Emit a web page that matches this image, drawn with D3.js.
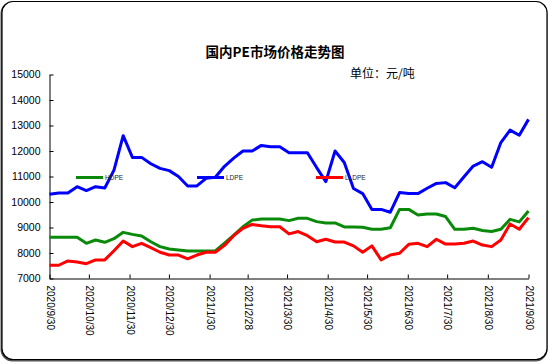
<!DOCTYPE html>
<html><head><meta charset="utf-8">
<script src="https://cdn.jsdelivr.net/npm/d3@7"></script>
<style>
html,body{margin:0;padding:0;background:#fff;}
svg{display:block;}
</style></head>
<body>
<svg id="c" width="550" height="364"></svg>
<script>
const title = "国内PE市场价格走势图";
const unitLabel = "单位：元/吨";
const seriesNames = ["HDPE", "LDPE", "LLDPE"];
const seriesColors = ["#0a8a0a", "#0000ff", "#ff0000"];
const startDate = "2020-09-30";
const endDate = "2021-09-30";
const tickLabels = ["2020/9/30","2020/10/30","2020/11/30","2020/12/30","2021/1/30","2021/2/28","2021/3/30","2021/4/30","2021/5/30","2021/6/30","2021/7/30","2021/8/30","2021/9/30"];
const yTicks = [7000,8000,9000,10000,11000,12000,13000,14000,15000];

const hdpe = [8620,8620,8620,8620,8380,8510,8420,8560,8810,8730,8670,8440,8250,8160,8120,8080,8080,8080,8080,8390,8700,9030,9290,9330,9330,9330,9270,9360,9360,9230,9180,9180,9020,9020,9010,8930,8930,8990,9710,9710,9490,9530,9530,9430,8930,8930,8970,8880,8840,8930,9320,9220,9650];
const ldpe = [10300,10350,10350,10600,10450,10600,10550,11250,12600,11750,11750,11500,11320,11230,11000,10630,10630,10930,10970,11400,11720,12000,12000,12220,12170,12170,11930,11930,11930,11350,10800,12000,11550,10530,10330,9710,9710,9600,10370,10330,10330,10540,10730,10760,10560,10990,11410,11580,11360,12330,12820,12620,13240];
const lldpe = [7520,7520,7690,7650,7580,7730,7730,8090,8470,8250,8380,8210,8030,7920,7920,7770,7920,8030,8030,8300,8680,8970,9120,9070,9030,9030,8750,8840,8680,8440,8540,8430,8430,8280,8030,8280,7730,7920,7990,8340,8380,8250,8540,8350,8350,8380,8470,8310,8250,8510,9140,8930,9390];

const parse = d3.timeParse("%Y-%m-%d");
const t0 = parse(startDate), t1 = parse(endDate);
const n = hdpe.length;
const dates = d3.range(n).map(i => new Date(+t0 + (t1 - t0) * i / (n - 1)));
const tickParse = d3.timeParse("%Y/%m/%d");
const tickDates = tickLabels.map(s => tickParse(s));

const svg = d3.select("#c");
const L = 49.5, R = 528.5, T = 74.5, B = 278.5;

// border with shadow
svg.append("rect").attr("x",1.5).attr("y",2.5).attr("width",545).attr("height",358)
  .attr("rx",11).attr("fill","none").attr("stroke","#555").attr("stroke-width",2);
svg.append("rect").attr("x",2).attr("y",1.5).attr("width",545).attr("height",358)
  .attr("rx",11).attr("fill","#fff").attr("stroke","#000").attr("stroke-width",1.2);

svg.append("text").attr("x",275).attr("y",57).attr("text-anchor","middle")
  .attr("font-family","'Noto Sans CJK SC'").attr("font-weight","bold").attr("font-size",13.5)
  .attr("fill","#000").text(title);
svg.append("text").attr("x",350).attr("y",78)
  .attr("font-family","'Noto Sans CJK SC'").attr("font-size",12)
  .attr("fill","#000").text(unitLabel);

const x = d3.scaleTime().domain([t0, t1]).range([L, R]);
const y = d3.scaleLinear().domain([7000, 15000]).range([B, T]);

const font = "'Liberation Sans', Arial, sans-serif";

const yAxis = svg.append("g").attr("transform",`translate(${L},0)`)
  .call(d3.axisLeft(y).tickValues(yTicks).tickSizeInner(-4).tickSizeOuter(0).tickPadding(9).tickFormat(d3.format("d")));
yAxis.select(".domain").attr("stroke","#000");
yAxis.selectAll("line").attr("stroke","#000");
yAxis.selectAll("text").attr("font-family",font).attr("font-size",10.5).attr("fill","#000");

const xAxis = svg.append("g").attr("transform",`translate(0,${B})`)
  .call(d3.axisBottom(x).tickValues(tickDates).tickSizeInner(-4).tickSizeOuter(0).tickFormat((d,i)=>tickLabels[i]));
xAxis.select(".domain").attr("stroke","#000");
xAxis.selectAll("line").attr("stroke","#000");
xAxis.selectAll("text").attr("font-family",font).attr("font-size",10).attr("fill","#000")
  .attr("text-anchor","start").attr("transform","rotate(90)")
  .attr("x",7).attr("y",0).attr("dy","0.35em");

const line = d3.line().x((d,i)=>x(dates[i])).y(d=>y(d));
const data = [hdpe, ldpe, lldpe];
[1,0,2].forEach(k => {
  svg.append("path").datum(data[k]).attr("fill","none").attr("stroke",seriesColors[k])
    .attr("stroke-width",3).attr("stroke-linejoin","round").attr("d",line);
});

// legends
const legendPos = [[76,177.5],[197,177.5],[316,177.5]];
seriesNames.forEach((name,k) => {
  const [lx,ly] = legendPos[k];
  svg.append("line").attr("x1",lx).attr("x2",lx+27).attr("y1",ly).attr("y2",ly)
    .attr("stroke",seriesColors[k]).attr("stroke-width",3);
  svg.append("text").attr("x",lx+29).attr("y",ly+2.5).attr("font-family",font)
    .attr("font-size",6.5).attr("fill","#222").text(name);
});
</script>
</body></html>
